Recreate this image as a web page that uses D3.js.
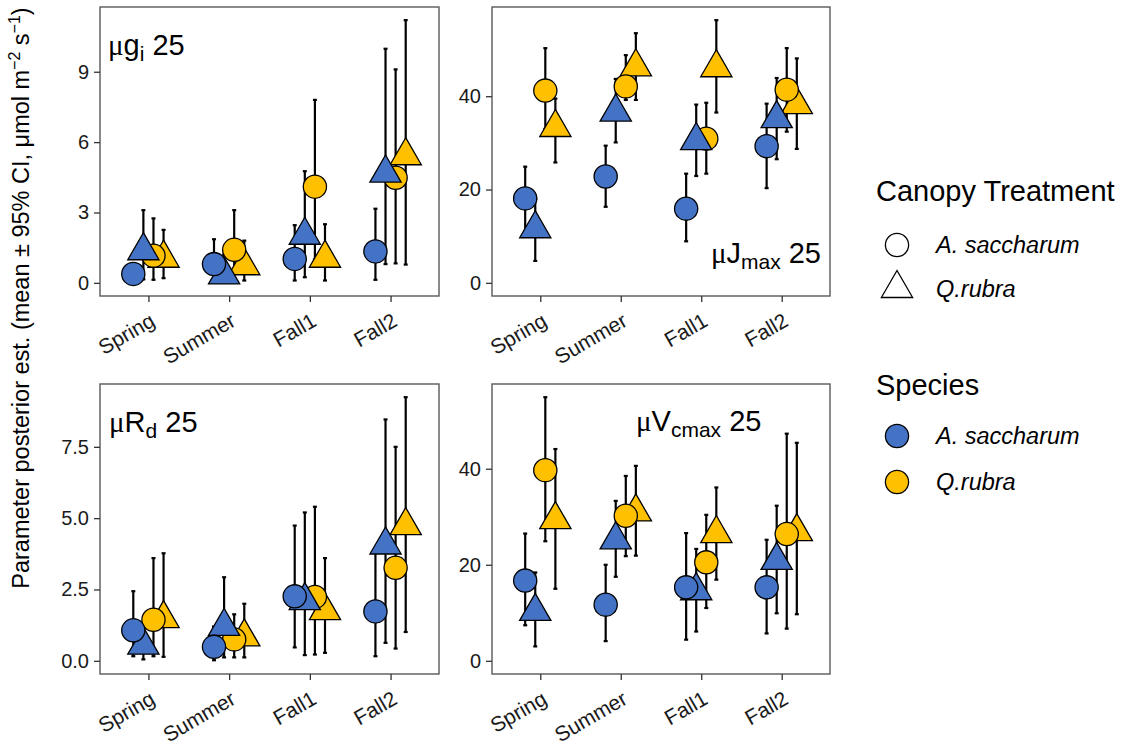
<!DOCTYPE html>
<html>
<head>
<meta charset="utf-8">
<script src="https://cdn.jsdelivr.net/npm/d3@7"></script>
<style>
  body { margin: 0; background: #fff; }
  text { font-family: "Liberation Sans", Arial, sans-serif; }
</style>
</head>
<body>
<svg id="chart" width="1127" height="747"></svg>
<script>
// ---- data ---------------------------------------------------------------
const seasons = ["Spring", "Summer", "Fall1", "Fall2"];
const speciesNames = ["A. saccharum", "Q.rubra"];
const canopyNames = ["A. saccharum", "Q.rubra"];
// column order inside each season row: [species, canopy] pairs
const groupSpecies = [0, 0, 1, 1];
const groupCanopy  = [0, 1, 0, 1];

// mu g_i 25
const gi25Mean  = [[0.38, 1.37, 1.16, 1.05], [0.80, 0.34, 1.41, 0.73], [1.02, 2.03, 4.10, 1.05], [1.34, 4.68, 4.48, 5.42]];
const gi25Lower = [[0.05, 0.15, 0.13, 0.20], [0.10, 0.02, 0.10, 0.10], [0.10, 0.24, 1.00, 0.10], [0.13, 0.80, 0.83, 0.78]];
const gi25Upper = [[0.80, 3.10, 2.75, 2.26], [1.86, 1.20, 3.10, 1.80], [2.46, 4.76, 7.80, 2.50], [3.16, 9.98, 9.10, 11.20]];

// mu J_max 25
const jmax25Mean  = [[18.1, 11.6, 41.2, 33.3], [22.8, 36.6, 42.1, 46.3], [15.9, 30.5, 30.9, 46.1], [29.3, 35.2, 41.4, 38.2]];
const jmax25Lower = [[11.0,  4.7, 33.0, 25.8], [16.3, 30.1, 39.2, 39.2], [ 8.9, 22.9, 23.4, 36.5], [20.3, 26.5, 32.4, 28.7]];
const jmax25Upper = [[24.9, 18.0, 50.3, 39.5], [29.4, 43.7, 48.8, 53.5], [23.4, 38.2, 38.6, 56.3], [38.4, 43.9, 50.3, 48.1]];

// mu R_d 25
const rd25Mean  = [[1.07, 0.55, 1.44, 1.48], [0.49, 1.21, 0.75, 0.84], [2.26, 2.11, 2.24, 1.76], [1.73, 4.06, 3.26, 4.74]];
const rd25Lower = [[0.16, 0.05, 0.16, 0.14], [0.02, 0.12, 0.12, 0.12], [0.47, 0.20, 0.22, 0.28], [0.16, 0.63, 0.43, 1.01]];
const rd25Upper = [[2.44, 1.20, 3.60, 3.77], [1.20, 2.93, 1.63, 2.00], [4.74, 5.20, 5.40, 3.60], [3.90, 8.46, 7.50, 9.24]];

// mu V_cmax 25
const vcmax25Mean  = [[16.7, 10.3, 39.7, 29.4], [11.7, 25.2, 30.2, 31.0], [15.3, 14.6, 20.5, 26.5], [15.3, 20.9, 26.4, 26.9]];
const vcmax25Lower = [[ 7.4,  3.0, 24.9, 15.0], [ 4.1, 17.5, 21.8, 21.9], [ 4.4,  6.1, 11.0, 16.9], [ 5.7,  9.9,  6.7,  9.7]];
const vcmax25Upper = [[26.5, 18.4, 54.9, 44.1], [20.0, 33.3, 38.5, 40.6], [26.6, 23.3, 30.4, 36.1], [25.2, 32.3, 47.3, 45.4]];

const gi25Ticks = [0, 3, 6, 9];
const jmax25Ticks = [0, 20, 40];
const rd25Ticks = [0, 2.5, 5, 7.5];
const vcmax25Ticks = [0, 20, 40];

// ---- styling / layout ---------------------------------------------------
const speciesColors = ["#4472C4", "#FFC000"];
const svg = d3.select("#chart");

const cols = [[100, 439], [492, 830]];
const rows = [[7, 296], [384, 674]];

const panels = [
  { mean: gi25Mean, lower: gi25Lower, upper: gi25Upper, ticks: gi25Ticks, fmt: d3.format("d"),
    col: 0, row: 0, title: { base: "g", sub: "i", x: 108, y: 55, anchor: "start" } },
  { mean: jmax25Mean, lower: jmax25Lower, upper: jmax25Upper, ticks: jmax25Ticks, fmt: d3.format("d"),
    col: 1, row: 0, title: { base: "J", sub: "max", x: 821, y: 263, anchor: "end" } },
  { mean: rd25Mean, lower: rd25Lower, upper: rd25Upper, ticks: rd25Ticks, fmt: d3.format(".1f"),
    col: 0, row: 1, title: { base: "R", sub: "d", x: 109, y: 432, anchor: "start" } },
  { mean: vcmax25Mean, lower: vcmax25Lower, upper: vcmax25Upper, ticks: vcmax25Ticks, fmt: d3.format("d"),
    col: 1, row: 1, title: { base: "V", sub: "cmax", x: 636, y: 431, anchor: "start" } }
];

const dodgeWidth = 0.5;
const nGroups = 4;
const circleR = 11.6;
const triR = 11.6;

// triangle path with the point at the centre of the circumscribed circle
function trianglePath(r) {
  const top = 1.5551 * r, half = 1.3468 * r, bot = 0.7776 * r;
  return `M0,${-top}L${half},${bot}L${-half},${bot}Z`;
}

panels.forEach(p => {
  const [x0, x1] = cols[p.col];
  const [y0, y1] = rows[p.row];

  const x = d3.scalePoint().domain(seasons).range([x0, x1]).padding(0.6);
  const step = x.step();

  const maxVal = d3.max(p.upper.flat());
  const minVal = Math.min(0, d3.min(p.lower.flat()));
  const pad = (maxVal - minVal) * 0.05;
  const y = d3.scaleLinear().domain([minVal - pad, maxVal + pad]).range([y1, y0]);

  const g = svg.append("g");

  // observations
  const recs = [];
  seasons.forEach((s, si) => {
    for (let k = 0; k < nGroups; k++) {
      const off = (-dodgeWidth / 2 + dodgeWidth / nGroups * (k + 0.5)) * step;
      recs.push({
        season: s, k,
        species: groupSpecies[k], canopy: groupCanopy[k],
        mean: p.mean[si][k], lo: p.lower[si][k], hi: p.upper[si][k],
        cx: x(s) + off
      });
    }
  });

  // error bars
  const cap = 2;
  const eb = g.append("g").attr("stroke", "#000").attr("stroke-width", 2.2).attr("fill", "none");
  recs.forEach(d => {
    eb.append("line").attr("x1", d.cx).attr("x2", d.cx).attr("y1", y(d.lo)).attr("y2", y(d.hi));
    eb.append("line").attr("x1", d.cx - cap).attr("x2", d.cx + cap).attr("y1", y(d.lo)).attr("y2", y(d.lo));
    eb.append("line").attr("x1", d.cx - cap).attr("x2", d.cx + cap).attr("y1", y(d.hi)).attr("y2", y(d.hi));
  });

  // points, drawn so that blue circles end up on top
  const drawOrder = [3, 2, 1, 0];
  const pts = g.append("g");
  seasons.forEach(s => {
    drawOrder.forEach(k => {
      const d = recs.find(r => r.season === s && r.k === k);
      if (d.canopy === 0) {
        pts.append("circle").attr("cx", d.cx).attr("cy", y(d.mean)).attr("r", circleR)
          .attr("fill", speciesColors[d.species]).attr("stroke", "#000").attr("stroke-width", 1.3);
      } else {
        pts.append("path").attr("d", trianglePath(triR))
          .attr("transform", `translate(${d.cx},${y(d.mean)})`)
          .attr("fill", speciesColors[d.species]).attr("stroke", "#000").attr("stroke-width", 1.3)
          .attr("stroke-linejoin", "miter");
      }
    });
  });

  // panel border
  g.append("rect").attr("x", x0).attr("y", y0).attr("width", x1 - x0).attr("height", y1 - y0)
    .attr("fill", "none").attr("stroke", "#595959").attr("stroke-width", 1.4);

  // axes
  const yAxis = d3.axisLeft(y).tickValues(p.ticks).tickFormat(p.fmt).tickSize(6).tickPadding(5);
  const ya = g.append("g").attr("transform", `translate(${x0},0)`).call(yAxis);
  ya.select(".domain").remove();
  ya.selectAll(".tick line").attr("stroke", "#333").attr("stroke-width", 1.3);
  ya.selectAll(".tick text").attr("fill", "#1a1a1a").style("font-size", "20px")
    .style("font-family", "'Liberation Sans', Arial, sans-serif");

  const xAxis = d3.axisBottom(x).tickSize(6).tickFormat("");
  const xa = g.append("g").attr("transform", `translate(0,${y1})`).call(xAxis);
  xa.select(".domain").remove();
  xa.selectAll(".tick line").attr("stroke", "#333").attr("stroke-width", 1.3);

  seasons.forEach(s => {
    g.append("text")
      .attr("transform", `translate(${x(s) + 8},${y1 + 29}) rotate(-30)`)
      .attr("text-anchor", "end")
      .attr("fill", "#1a1a1a")
      .style("font-size", "21px")
      .text(s);
  });

  // panel label
  const t = g.append("text")
    .attr("x", p.title.x).attr("y", p.title.y)
    .attr("text-anchor", p.title.anchor)
    .attr("fill", "#000")
    .style("font-size", "29px");
  t.append("tspan").style("font-family", "'Liberation Serif', serif").text("\u03BC");
  t.append("tspan").text(p.title.base);
  t.append("tspan").attr("dy", 6).style("font-size", "21px").text(p.title.sub);
  t.append("tspan").attr("dy", -6).text(" 25");
});

// y axis title
const yt = svg.append("text")
  .attr("transform", "translate(29,298) rotate(-90)")
  .attr("text-anchor", "middle")
  .attr("fill", "#000")
  .style("font-size", "23.5px");
yt.append("tspan").text("Parameter posterior est. (mean \u00B1 95% CI, \u03BCmol m");
yt.append("tspan").attr("dy", -9).style("font-size", "16px").text("\u22122");
yt.append("tspan").attr("dy", 9).text(" s");
yt.append("tspan").attr("dy", -9).style("font-size", "16px").text("\u22121");
yt.append("tspan").attr("dy", 9).text(")");

// legends
const lg = svg.append("g");
lg.append("text").attr("x", 876).attr("y", 201).style("font-size", "29px").attr("fill", "#000").text("Canopy Treatment");
canopyNames.forEach((name, i) => {
  const cy = 245 + i * 43.5;
  if (i === 0) {
    lg.append("circle").attr("cx", 897).attr("cy", cy).attr("r", circleR)
      .attr("fill", "#fff").attr("stroke", "#000").attr("stroke-width", 1.3);
  } else {
    lg.append("path").attr("d", trianglePath(triR)).attr("transform", `translate(897,${cy})`)
      .attr("fill", "#fff").attr("stroke", "#000").attr("stroke-width", 1.3);
  }
  lg.append("text").attr("x", 936).attr("y", cy + 8).style("font-size", "23.5px")
    .style("font-style", "italic").attr("fill", "#000").text(name);
});

lg.append("text").attr("x", 876).attr("y", 395).style("font-size", "29px").attr("fill", "#000").text("Species");
speciesNames.forEach((name, i) => {
  const cy = 436 + i * 46;
  lg.append("circle").attr("cx", 897).attr("cy", cy).attr("r", circleR)
    .attr("fill", speciesColors[i]).attr("stroke", "#000").attr("stroke-width", 1.3);
  lg.append("text").attr("x", 936).attr("y", cy + 8).style("font-size", "23.5px")
    .style("font-style", "italic").attr("fill", "#000").text(name);
});
</script>
</body>
</html>
